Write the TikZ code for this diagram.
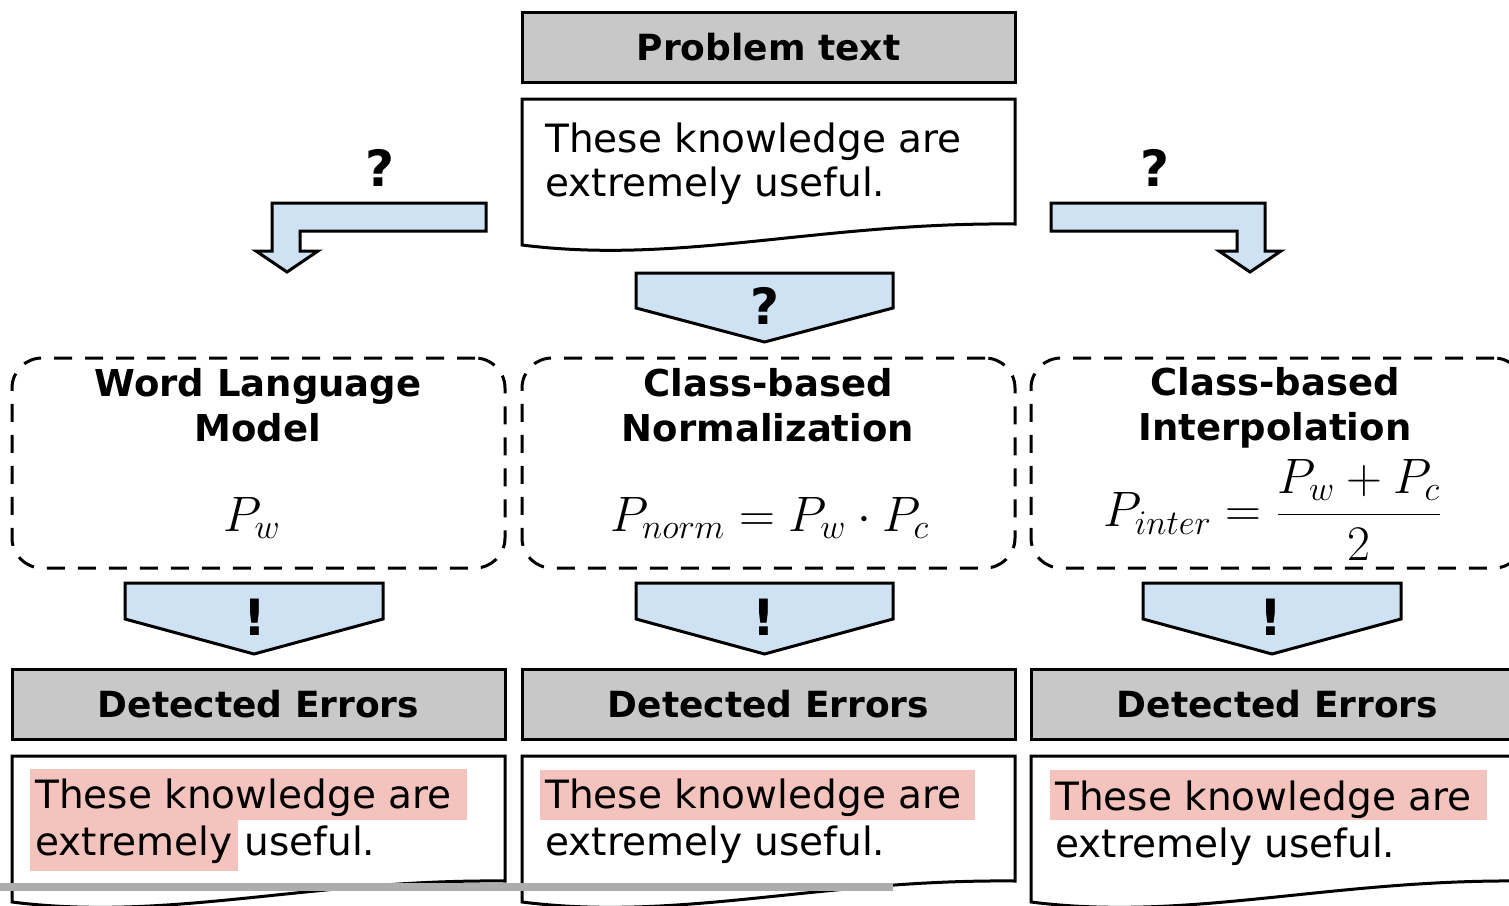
\documentclass[tikz,border=0pt]{standalone}
\usepackage{fontspec}
\setmainfont{DejaVu Sans}
\definecolor{headgray}{HTML}{C8C8C8}
\definecolor{arrowblue}{HTML}{CFE2F3}
\definecolor{hilite}{HTML}{F4C3BD}
\definecolor{rulegray}{HTML}{ADADAD}

\tikzset{
  header/.style={draw=black, line width=1.5pt, fill=headgray, minimum width=246.5pt,
    minimum height=35pt, inner sep=0pt, font=\fontsize{18pt}{22pt}\selectfont\bfseries},
  doc/.style={draw=black, line width=1.5pt, fill=white, line join=miter},
  method/.style={draw=black, line width=1.5pt, dash pattern=on 9pt off 6.5pt,
    rounded corners=15pt, minimum width=246.5pt, minimum height=105pt, inner sep=0pt},
  title/.style={align=center, inner sep=0pt, font=\fontsize{18.5pt}{22.5pt}\selectfont\bfseries},
  body/.style={anchor=base west, inner sep=0pt, font=\fontsize{19.5pt}{22pt}\selectfont},
  chevron/.style={draw=black, line width=1.5pt, fill=arrowblue, line join=miter},
  sym/.style={inner sep=0pt, font=\fontsize{25pt}{30pt}\selectfont\bfseries},
  formula/.style={inner sep=0pt, font=\fontsize{25pt}{30pt}\selectfont},
  pics/wavydoc/.style={code={
    \draw[doc] (0,0) -- (493,0) -- (493,125)
      .. controls (298,123) and (158,166) .. (0,146) -- cycle;}},
}

\begin{document}
\begin{tikzpicture}[x=0.5pt, y=-0.5pt]
\useasboundingbox (0,0) rectangle (1509,905);
\clip (0,0) rectangle (1509,905);

% input sentence
\node[header] (prob) at (768.5,47) {Problem text};
\pic at (522,99) {wavydoc};
\node[body] (in1) at (545,152) {These knowledge are};
\node[body] (in2) at (545,196) {extremely useful.};

% branching arrows
\node[sym] (qL) at (380,168) {?};
\node[sym] (qR) at (1155,168) {?};
\draw[chevron] (486,203) -- (272,203) -- (272,251) -- (256,251) -- (287,272)
  -- (318,251) -- (300,251) -- (300,231) -- (486,231) -- cycle;
\draw[chevron] (1051,203) -- (1265,203) -- (1265,251) -- (1281,251) -- (1250,272)
  -- (1219,251) -- (1237,251) -- (1237,231) -- (1051,231) -- cycle;
\draw[chevron] (636,273) -- (893,273) -- (893,308) -- (764.5,342) -- (636,308) -- cycle;
\node[sym] (qM) at (765,306) {?};

% the three models
\node[method] (m1) at (258.5,463) {};
\node[method] (m2) at (768.5,463) {};
\node[method] (m3) at (1277.5,463) {};
\node[title] (t1) at (258,405) {Word Language\\Model};
\node[title] (t2) at (768,405) {Class-based\\Normalization};
\node[title] (t3) at (1275,408) {Class-based\\Interpolation};
\node[formula] (f1) at (252,518) {$P_w$};
\node[formula] (f2) at (770,518) {$P_{norm} = P_w \cdot P_c$};
\node[formula] (f3) at (1273,510) {$\displaystyle P_{inter} = \frac{P_w + P_c}{2}$};

% result arrows
\draw[chevron] (125,583) -- (383,583) -- (383,619) -- (254,654) -- (125,619) -- cycle;
\draw[chevron] (636,583) -- (893,583) -- (893,619) -- (764.5,654) -- (636,619) -- cycle;
\draw[chevron] (1143,583) -- (1401,583) -- (1401,619) -- (1272,654) -- (1143,619) -- cycle;
\node[sym] (e1) at (255,617) {!};
\node[sym] (e2) at (764,617) {!};
\node[sym] (e3) at (1271,617) {!};

% detected errors
\node[header] (d1) at (258.5,704.5) {Detected Errors};
\node[header] (d2) at (768.5,704.5) {Detected Errors};
\node[header] (d3) at (1277.5,704.5) {Detected Errors};

\pic at (12,756) {wavydoc};
\pic at (522,756) {wavydoc};
\pic at (1031,756) {wavydoc};

\fill[hilite] (30,769) rectangle (467,820);
\fill[hilite] (30,820) rectangle (238,871);
\fill[hilite] (540,770) rectangle (975,820);
\fill[hilite] (1050,770) rectangle (1487,820);

\node[body] (o1a) at (35,808) {These knowledge are};
\node[body] (o1b) at (35,855) {extremely useful.};
\node[body] (o2a) at (545,808) {These knowledge are};
\node[body] (o2b) at (545,855) {extremely useful.};
\node[body] (o3a) at (1055,810) {These knowledge are};
\node[body] (o3b) at (1055,857) {extremely useful.};

% rule across the bottom
\coordinate (ruleL) at (0,887);
\coordinate (ruleR) at (893,887);
\draw[rulegray, line width=4pt] (ruleL) -- (ruleR);
\end{tikzpicture}
\end{document}
